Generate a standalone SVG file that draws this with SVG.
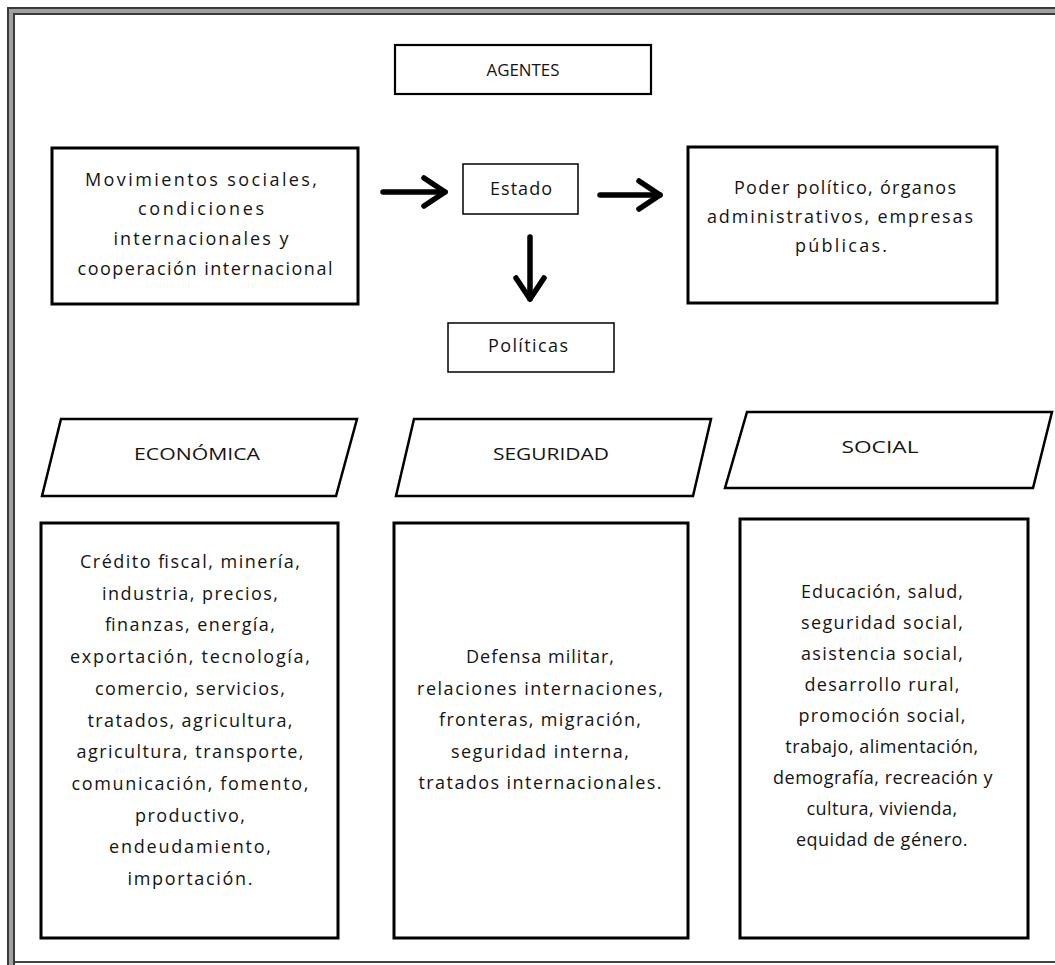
<svg xmlns="http://www.w3.org/2000/svg" width="1055" height="965" viewBox="0 0 1055 965">
<style>
.t{font-family:"Open Sans","Liberation Sans",sans-serif;font-size:18px;fill:#141414;text-anchor:middle}
.n{letter-spacing:0.5px}
.c{font-family:"Open Sans","Liberation Sans",sans-serif;font-size:16.5px;fill:#141414;text-anchor:middle}
.box{fill:#fff;stroke:#000;stroke-width:3}
.thin{fill:#fff;stroke:#000;stroke-width:1.5}
.para{fill:#fff;stroke:#000;stroke-width:2.5}
.conn{fill:none;stroke:#000;stroke-width:5.5;stroke-linecap:round}
</style>
<defs>
<marker id="chev" markerUnits="userSpaceOnUse" markerWidth="34" markerHeight="40" viewBox="-4 -4 34 40" refX="22" refY="15" orient="auto">
<path d="M1,1 L22,15 L1,29" fill="none" stroke="#000" stroke-width="5.5" stroke-linecap="round" stroke-linejoin="round"/>
</marker>
</defs>
<rect width="1055" height="965" fill="#fff"/>
<g id="frame" fill="none">
<path d="M11,965 V11 H1055" stroke="#a0a0a0" stroke-width="4"/>
<path d="M8,965 V8 H1055" stroke="#3a3a3a" stroke-width="2"/>
<path d="M14,965 V14 H1055" stroke="#3a3a3a" stroke-width="2"/>
<path d="M15,962 H1055" stroke="#444" stroke-width="2"/>
</g>
<g id="agentes">
<rect x="395" y="45" width="256" height="49" fill="#fff" stroke="#000" stroke-width="2.2"/>
<text class="c" x="523" y="76" textLength="73" lengthAdjust="spacingAndGlyphs">AGENTES</text>
</g>
<g id="movimientos">
<rect class="box" x="52" y="148" width="306" height="156"/>
<text class="t" x="201" y="186" textLength="232" lengthAdjust="spacing">Movimientos sociales,</text>
<text class="t" x="201" y="215" textLength="126" lengthAdjust="spacing">condiciones</text>
<text class="t" x="201" y="245" textLength="175" lengthAdjust="spacing">internacionales y</text>
<text class="t" x="205" y="275" textLength="255" lengthAdjust="spacing">cooperación internacional</text>
</g>
<g id="estado">
<rect class="thin" x="463" y="164" width="115" height="50"/>
<text class="t" x="521" y="195" textLength="62" lengthAdjust="spacing">Estado</text>
</g>
<g id="poder">
<rect class="box" x="688" y="147" width="309" height="156"/>
<text class="t" x="845" y="194" textLength="222" lengthAdjust="spacing">Poder político, órganos</text>
<text class="t" x="840" y="223" textLength="266" lengthAdjust="spacing">administrativos,  empresas</text>
<text class="t" x="841" y="252" textLength="92" lengthAdjust="spacing">públicas.</text>
</g>
<g id="politicas">
<rect class="thin" x="448" y="323" width="166" height="49"/>
<text class="t" x="528" y="352" textLength="80" lengthAdjust="spacing">Políticas</text>
</g>
<g id="connectors">
<path class="conn" d="M383,192 H445" marker-end="url(#chev)"/>
<path class="conn" d="M600,195 H660" marker-end="url(#chev)"/>
<path class="conn" d="M530,237 V299" marker-end="url(#chev)"/>
</g>
<g id="economica">
<path class="para" d="M61,419 H357 L336,496 H42 Z"/>
<text class="c" x="197" y="460" textLength="126" lengthAdjust="spacingAndGlyphs">ECONÓMICA</text>
</g>
<g id="seguridad">
<path class="para" d="M414,419 H711 L693,496 H396 Z"/>
<text class="c" x="551" y="460" textLength="116" lengthAdjust="spacingAndGlyphs">SEGURIDAD</text>
</g>
<g id="social">
<path class="para" d="M747,412 H1052 L1033,488 H725 Z"/>
<text class="c" x="880" y="453" textLength="77" lengthAdjust="spacingAndGlyphs">SOCIAL</text>
</g>
<g id="economica-detalle">
<rect class="box" x="41" y="523" width="297" height="415"/>
<text class="t" x="190" y="568" textLength="220" lengthAdjust="spacing">Crédito fiscal, minería,</text>
<text class="t" x="190" y="600" textLength="176" lengthAdjust="spacing">industria, precios,</text>
<text class="t" x="190" y="631" textLength="170" lengthAdjust="spacing">finanzas, energía,</text>
<text class="t" x="190" y="663" textLength="240" lengthAdjust="spacing">exportación, tecnología,</text>
<text class="t" x="190" y="695" textLength="190" lengthAdjust="spacing">comercio, servicios,</text>
<text class="t" x="190" y="727" textLength="205" lengthAdjust="spacing">tratados, agricultura,</text>
<text class="t" x="190" y="758" textLength="227" lengthAdjust="spacing">agricultura, transporte,</text>
<text class="t" x="190" y="790" textLength="237" lengthAdjust="spacing">comunicación, fomento,</text>
<text class="t" x="190" y="822" textLength="110" lengthAdjust="spacing">productivo,</text>
<text class="t" x="190" y="853" textLength="162" lengthAdjust="spacing">endeudamiento,</text>
<text class="t" x="190" y="885" textLength="125" lengthAdjust="spacing">importación.</text>
</g>
<g id="seguridad-detalle">
<rect class="box" x="394" y="523" width="294" height="415"/>
<text class="t" x="540" y="663" textLength="148" lengthAdjust="spacing">Defensa militar,</text>
<text class="t" x="540" y="695" textLength="246" lengthAdjust="spacing">relaciones internaciones,</text>
<text class="t" x="540" y="726" textLength="202" lengthAdjust="spacing">fronteras, migración,</text>
<text class="t" x="540" y="758" textLength="178" lengthAdjust="spacing">seguridad interna,</text>
<text class="t" x="540" y="789" textLength="243" lengthAdjust="spacing">tratados internacionales.</text>
</g>
<g id="social-detalle">
<rect class="box" x="740" y="519" width="288" height="419"/>
<text class="t" x="882" y="598" textLength="162" lengthAdjust="spacing">Educación, salud,</text>
<text class="t" x="882" y="629" textLength="162" lengthAdjust="spacing">seguridad social,</text>
<text class="t" x="882" y="660" textLength="162" lengthAdjust="spacing">asistencia social,</text>
<text class="t" x="882" y="691" textLength="155" lengthAdjust="spacing">desarrollo rural,</text>
<text class="t" x="882" y="722" textLength="167" lengthAdjust="spacing">promoción social,</text>
<text class="t n" x="882" y="753">trabajo, alimentación,</text>
<text class="t n" x="883" y="784">demografía, recreación y</text>
<text class="t n" x="882" y="815">cultura, vivienda,</text>
<text class="t n" x="882" y="846">equidad de género.</text>
</g>
</svg>
